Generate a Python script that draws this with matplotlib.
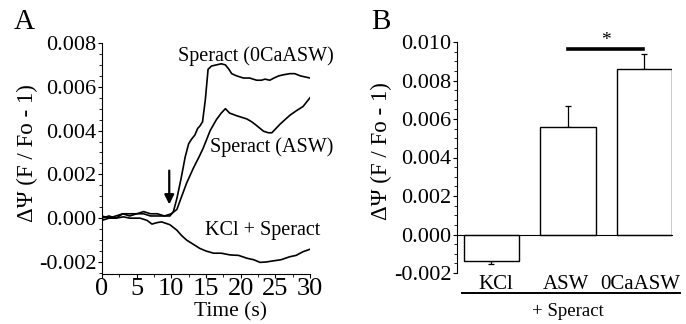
import numpy as np
import matplotlib
matplotlib.use("Agg")
import matplotlib.pyplot as plt
from matplotlib.ticker import MultipleLocator, FormatStrFormatter

plt.rcParams['font.family'] = ['Liberation Serif', 'DejaVu Serif']

# ---- panel A traces (time s, dPsi) ----
t_ca = [0, 1, 2, 3, 4, 5, 6, 7, 8, 9, 9.8, 10.3, 10.8, 11.4, 12.0, 12.5, 12.9, 13.4,
        13.8, 14.1, 14.5, 14.9, 15.3, 15.8, 16.5, 17.2, 17.8, 18.3, 18.7, 19.4, 20.4,
        21.3, 22.3, 23.0, 23.5, 24.2, 24.8, 25.5, 26.2, 27.1, 27.8, 28.6, 29.3, 30]
v_ca = [0.0000, 0.0001, 0.0000, 0.0002, 0.0001, 0.0002, 0.0002, 0.0001, 0.0001, 0.0001,
        0.0001, 0.0003, 0.0009, 0.0018, 0.0028, 0.0034, 0.0036, 0.0038, 0.0041, 0.0042,
        0.0044, 0.0054, 0.0068, 0.00695, 0.0070, 0.00705, 0.0070, 0.0068, 0.0066,
        0.0065, 0.0064, 0.0064, 0.0063, 0.0063, 0.00635, 0.0063, 0.0064, 0.0065,
        0.00655, 0.0066, 0.0066, 0.0065, 0.00645, 0.0064]

t_asw = [0, 1, 2, 3, 4, 5, 6, 7, 8, 9, 10, 10.8, 11.5, 12.2, 13.2, 14.0, 14.6, 15.6,
         16.5, 17.2, 17.8, 18.4, 19.4, 20.2, 20.9, 21.6, 22.3, 23.3, 24.0, 24.5, 25.1,
         25.7, 26.4, 27.1, 28.0, 29.0, 29.5, 30]
v_asw = [0.0001, 0.0000, 0.0001, 0.0002, 0.0002, 0.0002, 0.0003, 0.0002, 0.0002, 0.0001,
         0.0002, 0.0004, 0.0010, 0.0016, 0.0023, 0.0028, 0.0032, 0.0040, 0.0045,
         0.0048, 0.0050, 0.0048, 0.00468, 0.0046, 0.00453, 0.0044, 0.00423, 0.00397,
         0.0039, 0.0039, 0.0041, 0.0043, 0.0045, 0.0047, 0.0049, 0.0051, 0.0053, 0.0055]

t_kcl = [0, 1, 2, 3.1, 4, 5.5, 6.5, 7.2, 8.0, 8.6, 9.8, 10.8, 11.5, 12.2, 13.2, 14.1,
         15.0, 16.1, 17.2, 18.5, 19.7, 20.9, 21.9, 22.8, 23.7, 24.7, 25.8, 27.1, 28.0,
         29.0, 30]
v_kcl = [-0.0001, 0.0000, 0.0000, 0.00006, 0.0000, 0.0000, -0.0001, -0.00027, -0.0002,
         -0.00017, -0.0003, -0.00055, -0.0008, -0.0010, -0.0012, -0.00138, -0.0015,
         -0.0016, -0.0016, -0.00168, -0.0017, -0.00183, -0.0019, -0.00202, -0.0020,
         -0.00195, -0.0019, -0.00176, -0.0017, -0.00153, -0.00142]

# ---- panel B bars ----
categories = ['KCl', 'ASW', '0CaASW']
means = [-0.0014, 0.0056, 0.0086]
errors = [0.00015, 0.0011, 0.0008]

W, H = 686, 324
fig = plt.figure(figsize=(W / 100, H / 100), dpi=100)

def frac(l, r, top, bot):
    return [l / W, 1 - bot / H, (r - l) / W, (bot - top) / H]

# ================= panel A =================
axA = fig.add_axes(frac(102, 310, 43, 274))
axA.plot(t_kcl, v_kcl, color='black', lw=1.2)
axA.plot(t_asw, v_asw, color='black', lw=1.2)
axA.plot(t_ca, v_ca, color='black', lw=1.2)
axA.set_xlim(0, 30)
axA.set_ylim(-0.00255, 0.008)
axA.spines['top'].set_visible(False)
axA.spines['right'].set_visible(False)
axA.xaxis.set_major_locator(MultipleLocator(5))
axA.xaxis.set_minor_locator(MultipleLocator(2.5))
axA.yaxis.set_major_locator(MultipleLocator(0.002))
axA.yaxis.set_minor_locator(MultipleLocator(0.0005))
axA.yaxis.set_major_formatter(FormatStrFormatter('%.3f'))
axA.tick_params(axis='y', which='major', labelsize=16, length=3, width=0.8, pad=1)
axA.tick_params(axis='x', which='major', labelsize=19, length=3, width=0.8, pad=0)
axA.tick_params(which='minor', length=2, width=0.6)
axA.annotate('', xy=(9.7, 0.0005), xytext=(9.7, 0.0023),
             arrowprops=dict(arrowstyle='-|>', color='black', lw=1.6,
                             mutation_scale=14))
axA.text(22.2, 0.0074, 'Speract (0CaASW)', fontsize=14.5, ha='center', va='center',
         clip_on=False)
axA.text(24.5, 0.00324, 'Speract (ASW)', fontsize=14.5, ha='center', va='center',
         clip_on=False)
axA.text(23.1, -0.00055, 'KCl + Speract', fontsize=14.5, ha='center', va='center',
         clip_on=False)
fig.text(230 / W, 1 - 312 / H, 'Time (s)', fontsize=15.5, ha='center', va='center')
fig.text(27 / W, 1 - 153 / H, 'ΔΨ (F / Fo - 1)', fontsize=16.5, rotation=90,
         ha='center', va='center')
fig.text(24 / W, 1 - 22 / H, 'A', fontsize=21, ha='center', va='center')

# ================= panel B =================
axB = fig.add_axes(frac(457, 672, 42, 273))
x = np.arange(len(categories))
axB.bar(x, means, width=0.73, color='white', edgecolor='black', linewidth=1.0,
        zorder=2)
for xi, m, e in zip(x, means, errors):
    sgn = 1 if m >= 0 else -1
    axB.errorbar(xi, m, yerr=[[0], [e]] if sgn > 0 else [[e], [0]], fmt='none',
                 ecolor='black', elinewidth=0.9, capsize=2.5, capthick=0.9, zorder=1)
axB.set_xlim(-0.45, 2.36)
axB.set_ylim(-0.002, 0.010)
axB.spines['top'].set_visible(False)
axB.spines['right'].set_visible(False)
axB.spines['bottom'].set_position(('data', 0))
axB.set_xticks([])
axB.yaxis.set_major_locator(MultipleLocator(0.002))
axB.yaxis.set_minor_locator(MultipleLocator(0.0005))
axB.yaxis.set_major_formatter(FormatStrFormatter('%.3f'))
axB.tick_params(axis='y', which='major', labelsize=16, length=3, width=0.8, pad=1)
axB.tick_params(which='minor', length=2, width=0.6)

# significance
axB.plot([1.0, 1.98], [0.00964, 0.00964], color='black', lw=2.6, clip_on=False)
axB.text(1.5, 0.0101, '*', fontsize=14, ha='center', va='center')

# category labels and bracket
for xi, lab in zip([0.05, 0.98, 1.95], categories):
    axB.text(xi, -0.00262, lab, fontsize=15, ha='center', va='center', clip_on=False)
axB.plot([-0.38, 2.46], [-0.00304, -0.00304], color='black', lw=1.4, clip_on=False)
axB.text(1.0, -0.00398, '+ Speract', fontsize=13.5, ha='center', va='center',
         clip_on=False)
fig.text(381 / W, 1 - 151 / H, 'ΔΨ (F / Fo - 1)', fontsize=16.5, rotation=90,
         ha='center', va='center')
fig.text(381 / W, 1 - 22 / H, 'B', fontsize=21, ha='center', va='center')

fig.savefig('out.png', dpi=100)
